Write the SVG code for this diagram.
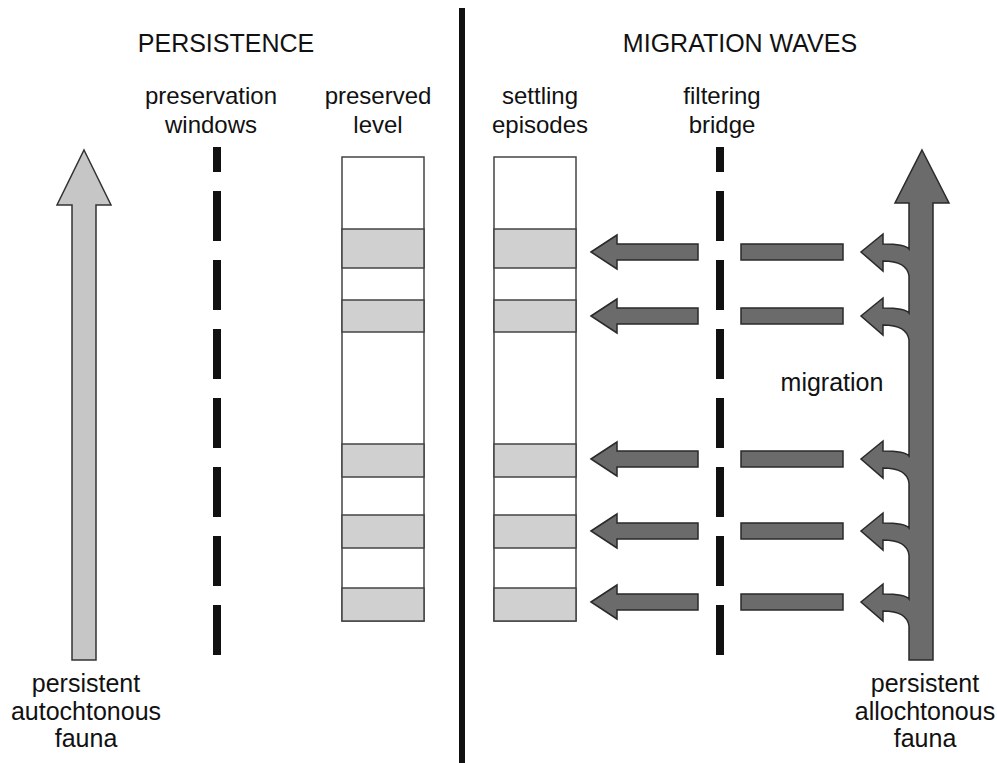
<svg xmlns="http://www.w3.org/2000/svg" width="997" height="763" viewBox="0 0 997 763">
<style>
text{font-family:"Liberation Sans",Arial,sans-serif;font-size:24px;fill:#111;text-anchor:middle}
.title{font-size:25px}
.big{font-size:25px}
.dash{stroke:#111;stroke-width:8;stroke-dasharray:50 19;stroke-dashoffset:25;fill:none}
.col{fill:#fff;stroke:#444;stroke-width:1.5}
.band{fill:#d0d0d0;stroke:#444;stroke-width:1.5}
.dark{fill:#6b6b6b;stroke:#2a2a2a;stroke-width:1.5;stroke-linejoin:miter}
.light{fill:#c6c6c6;stroke:#333;stroke-width:1.5}
</style>
<rect width="997" height="763" fill="#fff"/>
<g id="divider"><rect x="459" y="8" width="6" height="755" fill="#111"/></g>
<g id="titles">
<text class="title" x="226" y="52">PERSISTENCE</text>
<text class="title" x="740" y="52">MIGRATION WAVES</text>
</g>
<g id="label-preservation-windows"><text x="211" y="104">preservation</text><text x="211" y="133">windows</text></g>
<g id="label-preserved-level"><text x="378" y="104">preserved</text><text x="378" y="133">level</text></g>
<g id="label-settling-episodes"><text x="540" y="104">settling</text><text x="540" y="133">episodes</text></g>
<g id="label-filtering-bridge"><text x="722" y="104">filtering</text><text x="722" y="133">bridge</text></g>
<g id="label-migration"><text class="big" x="832" y="391">migration</text></g>
<g id="label-autochtonous"><text class="big" x="86" y="692">persistent</text><text class="big" x="86" y="720">autochtonous</text><text class="big" x="86" y="747">fauna</text></g>
<g id="label-allochtonous"><text class="big" x="925" y="692">persistent</text><text class="big" x="925" y="720">allochtonous</text><text class="big" x="925" y="747">fauna</text></g>
<g id="autochtonous-arrow"><path class="light" d="M84,150 L111,205 L96,205 L96,660 L72,660 L72,205 L57,205 Z"/></g>
<g id="preservation-windows"><line class="dash" x1="217" y1="147" x2="217" y2="660"/></g>
<g id="filtering-bridge"><line class="dash" x1="720" y1="147" x2="720" y2="660"/></g>
<g id="preserved-level">
<rect class="col" x="342" y="157" width="82" height="464"/>
<rect class="band" x="342" y="229" width="82" height="39"/>
<rect class="band" x="342" y="300" width="82" height="32"/>
<rect class="band" x="342" y="444" width="82" height="33"/>
<rect class="band" x="342" y="515" width="82" height="33"/>
<rect class="band" x="342" y="588" width="82" height="33"/>
</g>
<g id="settling-episodes">
<rect class="col" x="494" y="157" width="82" height="464"/>
<rect class="band" x="494" y="229" width="82" height="39"/>
<rect class="band" x="494" y="300" width="82" height="32"/>
<rect class="band" x="494" y="444" width="82" height="33"/>
<rect class="band" x="494" y="515" width="82" height="33"/>
<rect class="band" x="494" y="588" width="82" height="33"/>
</g>
<g id="allochtonous-arrow">
<path class="dark" d="M922,150 L949,203 L933,203 L933,660 L909,660
L909,626 Q907,611 883,611 L883,621 L861,602 L883,584 L883,594 Q905,594 909,599
L909,555 Q907,540 883,540 L883,550 L861,531 L883,513 L883,523 Q905,523 909,528
L909,483 Q907,468 883,468 L883,478 L861,459 L883,441 L883,451 Q905,451 909,456
L909,340 Q907,325 883,325 L883,335 L861,316 L883,298 L883,308 Q905,308 909,313
L909,276 Q907,261 883,261 L883,271 L861,252 L883,234 L883,244 Q905,244 909,249
L909,203 L895,203 Z"/>
</g>
<g id="connectors">
<path class="dark" d="M591,252 L617,235 L617,244 L698,244 L698,260 L617,260 L617,269 Z"/>
<path class="dark" d="M591,316 L617,299 L617,308 L698,308 L698,324 L617,324 L617,333 Z"/>
<path class="dark" d="M591,459 L617,442 L617,451 L698,451 L698,467 L617,467 L617,476 Z"/>
<path class="dark" d="M591,531 L617,514 L617,523 L698,523 L698,539 L617,539 L617,548 Z"/>
<path class="dark" d="M591,602 L617,585 L617,594 L698,594 L698,610 L617,610 L617,619 Z"/>
<rect class="dark" x="741" y="244" width="102" height="16"/>
<rect class="dark" x="741" y="308" width="102" height="16"/>
<rect class="dark" x="741" y="451" width="102" height="16"/>
<rect class="dark" x="741" y="523" width="102" height="16"/>
<rect class="dark" x="741" y="594" width="102" height="16"/>
</g>
</svg>
